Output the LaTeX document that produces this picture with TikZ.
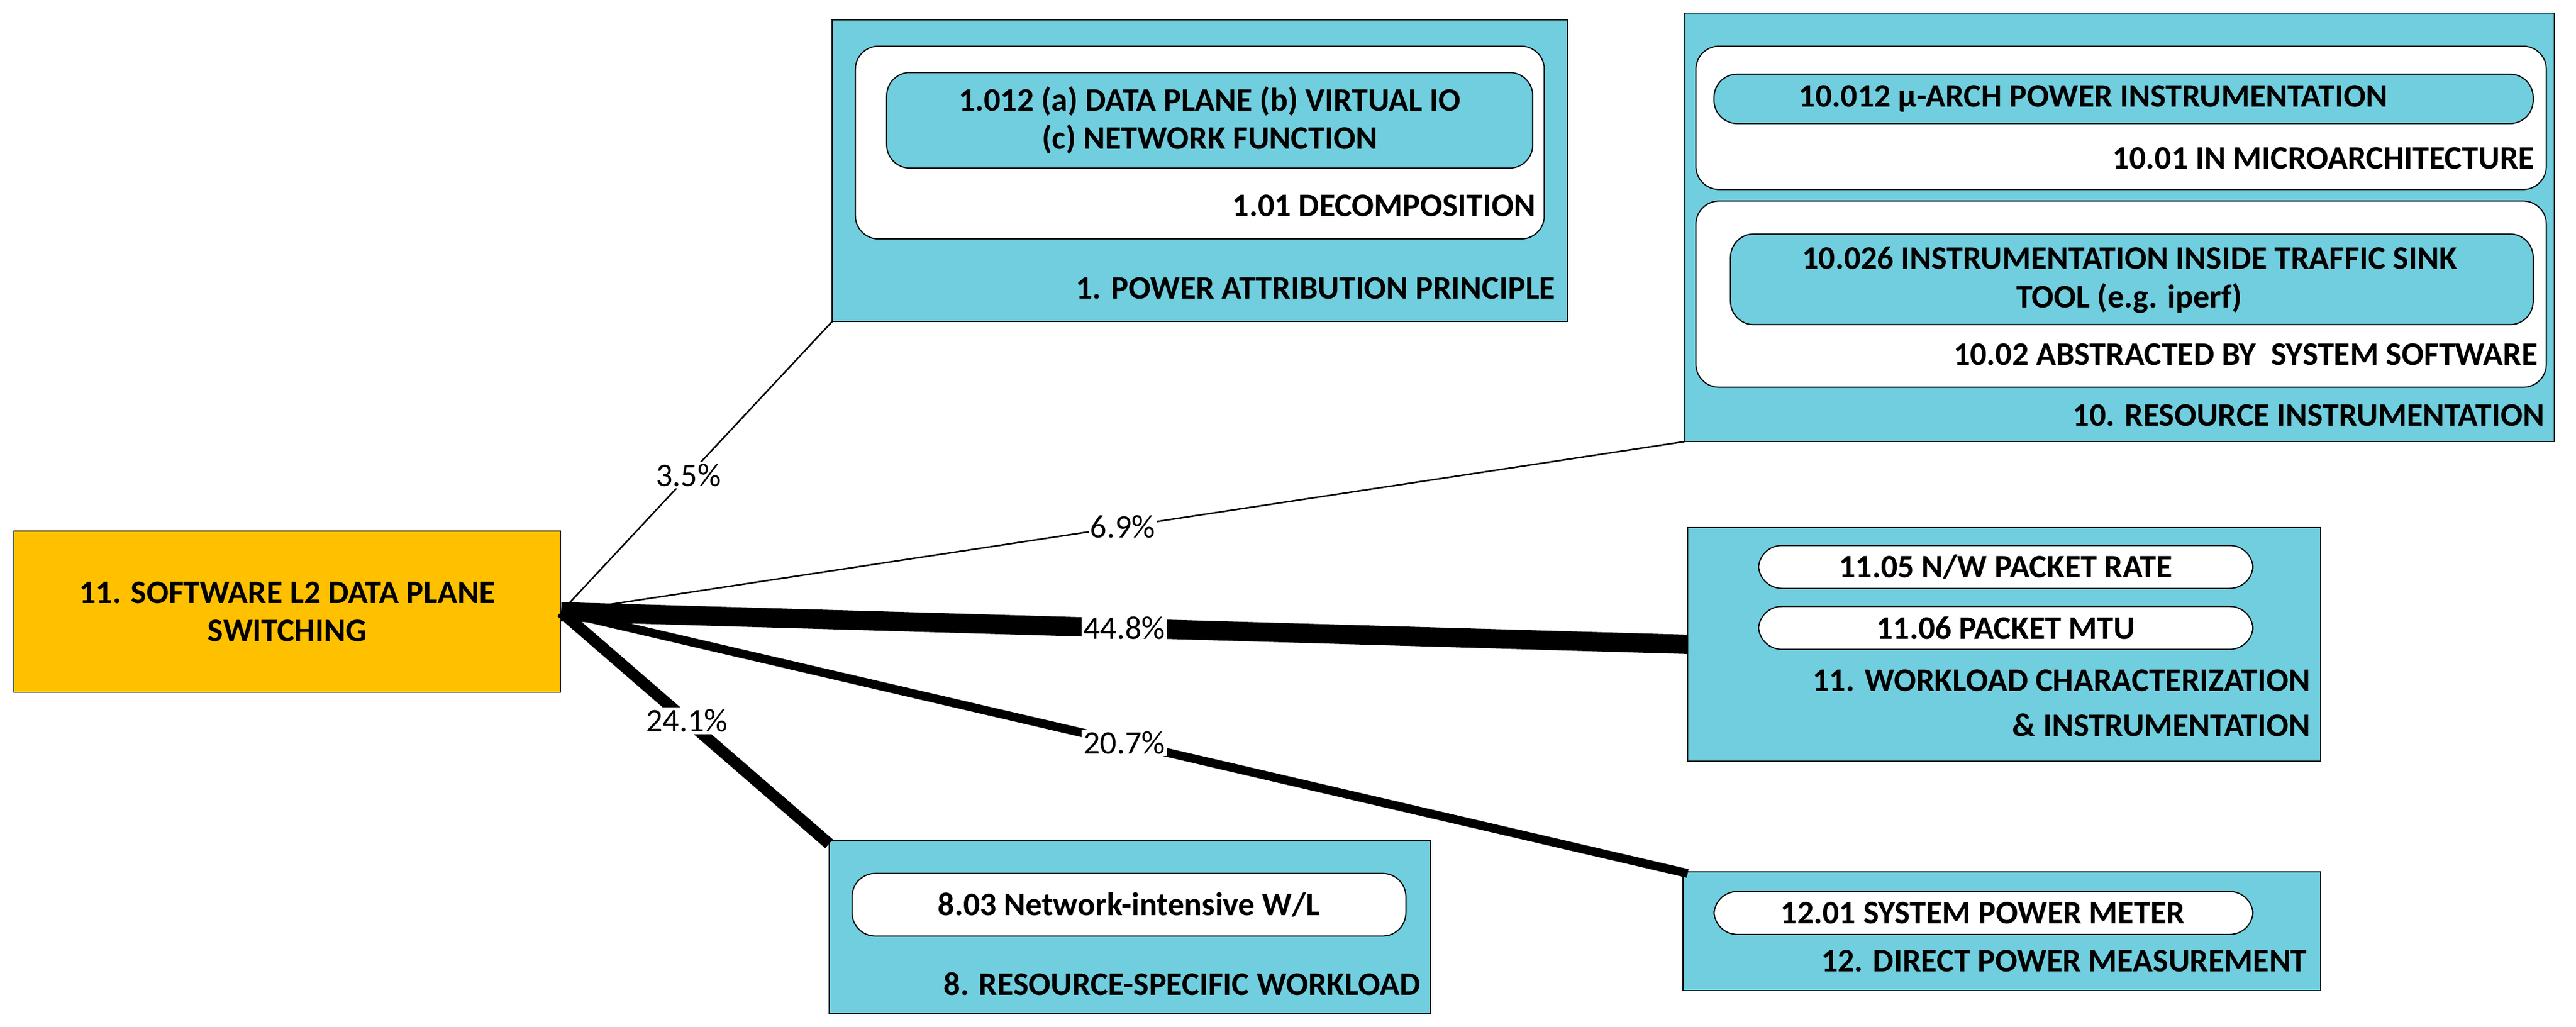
\documentclass[tikz,border=0pt]{standalone}
\usepackage{fontspec}
\setmainfont{Carlito}
\definecolor{boxblue}{HTML}{70CEDE}
\definecolor{hubgold}{HTML}{FFC000}
\tikzset{blk/.style={draw,fill=boxblue,line width=0.6pt}}
\tikzset{rnd/.style={draw,fill=white,rounded corners=12pt,line width=0.6pt}}
\tikzset{pil/.style={draw,fill=boxblue,rounded corners=12pt,line width=0.6pt}}
\tikzset{t/.style={font=\fontsize{17}{20}\selectfont\bfseries,align=center,inner sep=0pt}}
\tikzset{r/.style={t,anchor=east}}
\tikzset{e/.style={fill=white,inner sep=1pt,font=\fontsize{17}{20}\selectfont}}
\begin{document}
\begin{tikzpicture}[x=0.03cm,y=-0.03cm]
  \useasboundingbox (0,0) rectangle (1563,623);
  % hub
  \node[draw,fill=hubgold,t,minimum width=9.96cm,minimum height=2.94cm,anchor=north west] (sw) at (8,322)
    {11. SOFTWARE L2 DATA PLANE\\SWITCHING};
  % 1. power attribution
  \draw[blk] (505,12) rectangle (951,195);
  \draw[rnd] (519,28) rectangle (937,145);
  \draw[pil] (538,44) rectangle (930,102);
  \node[t] at (734,73) {1.012 (a) DATA PLANE (b) VIRTUAL IO\\(c) NETWORK FUNCTION};
  \node[r] at (932,125) {1.01 DECOMPOSITION};
  \node[r] at (944,175) {1. POWER ATTRIBUTION PRINCIPLE};
  \coordinate (pa) at (505,195);
  % 10. resource instrumentation
  \draw[blk] (1022,8) rectangle (1550,268);
  \draw[rnd] (1029,28) rectangle (1545,115);
  \draw[pil] (1040,45) rectangle (1537,75);
  \node[t] at (1270,60) {10.012 µ-ARCH POWER INSTRUMENTATION};
  \node[r] at (1538,96) {10.01 IN MICROARCHITECTURE};
  \draw[rnd] (1029,122) rectangle (1545,235);
  \draw[pil] (1050,142) rectangle (1537,197);
  \node[t] at (1292,170) {10.026 INSTRUMENTATION INSIDE TRAFFIC SINK\\TOOL (e.g. iperf)};
  \node[r] at (1540,215) {10.02 ABSTRACTED BY\ \ SYSTEM SOFTWARE};
  \node[r] at (1544,252) {10. RESOURCE INSTRUMENTATION};
  \coordinate (ri) at (1022,268);
  % 11. workload
  \draw[blk] (1024,320) rectangle (1408,462);
  \draw[rnd] (1067,331) rectangle (1367,357);
  \node[t] at (1217,344) {11.05 N/W PACKET RATE};
  \draw[rnd] (1067,368) rectangle (1367,394);
  \node[t] at (1217,381) {11.06 PACKET MTU};
  \node[r] at (1402,413) {11. WORKLOAD CHARACTERIZATION};
  \node[r] at (1402,440) {\& INSTRUMENTATION};
  \coordinate (wl) at (1024,391);
  % 8. resource-specific workload
  \draw[blk] (503,510) rectangle (868,615);
  \draw[rnd] (517,530) rectangle (853,568);
  \node[t] at (685,549) {8.03 Network-intensive W/L};
  \node[r] at (862,597) {8. RESOURCE-SPECIFIC WORKLOAD};
  \coordinate (rs) at (503,512);
  % 12. direct power
  \draw[blk] (1021,529) rectangle (1408,601);
  \draw[rnd] (1040,541) rectangle (1367,567);
  \node[t] at (1203,554) {12.01 SYSTEM POWER METER};
  \node[r] at (1400,583) {12. DIRECT POWER MEASUREMENT};
  \coordinate (dp) at (1024,530);
  % links
  \draw[line width=0.8pt] (sw.east) -- node[e,pos=0.47] {3.5\%} (pa);
  \draw[line width=0.8pt] (sw.east) -- node[e,pos=0.5] {6.9\%} (ri);
  \draw[line width=10pt] (sw.east) -- node[e,pos=0.5] {44.8\%} (wl);
  \draw[line width=4.5pt] (sw.east) -- node[e,pos=0.5] {20.7\%} (dp);
  \draw[line width=6pt] (sw.east) -- node[e,pos=0.47] {24.1\%} (rs);
\end{tikzpicture}
\end{document}
